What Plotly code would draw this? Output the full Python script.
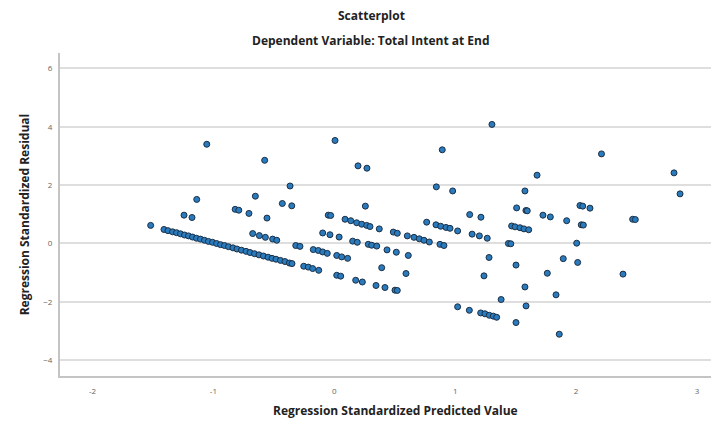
import plotly.graph_objects as go

# Regression Standardized Predicted Value (x) and Regression Standardized Residual (y)
predicted = [
    # densest diagonal band on the left
    -1.409, -1.376, -1.338, -1.305, -1.272, -1.239, -1.206, -1.173, -1.140, -1.107,
    -1.074, -1.041, -1.007, -0.974, -0.941, -0.908, -0.875, -0.838, -0.805, -0.768,
    -0.730, -0.697, -0.660, -0.623, -0.586, -0.548, -0.515, -0.482, -0.445, -0.408,
    -0.371, -0.350,
    -0.253, -0.215, -0.179, -0.129, 0.020, 0.053, 0.177, 0.232, 0.345, 0.419, 0.502, 0.521,
    # second band
    -0.675, -0.620, -0.570, -0.510, -0.476, -0.319, -0.284,
    -0.174, -0.132, -0.096, -0.058, 0.020, 0.061, 0.110, 0.392, 0.593,
    # third band
    -0.820, -0.790, -0.706, -0.557, -0.096, -0.036, 0.040, 0.152, 0.190,
    0.281, 0.309, 0.351, 0.436, 0.513, 0.612, 1.238,
    # upper bands
    -1.519, -1.243, -1.177, -1.138, -0.653, -0.430, -0.352, -0.366,
    -0.050, -0.030, 0.089, 0.136, 0.185, 0.227, 0.268, 0.295, 0.372,
    0.488, 0.521, 0.604, 0.659, 0.703, 0.742, 0.786, 0.874, 0.907,
    0.257, 0.764, 0.841, 0.880, 0.924, 0.957, 1.020,
    1.120, 1.213, 1.140, 1.200, 1.265, 1.280,
    1.440, 1.460, 1.467, 1.495, 1.536, 1.569, 1.608, 1.508, 1.585, 1.596,
    1.726, 1.787, 1.922, 2.032, 2.055, 2.115, 2.043, 2.060, 2.005,
    2.468, 2.490, 1.894, 2.013, 2.388, 1.762, 1.503, 1.577,
    # lower cluster
    1.020, 1.117, 1.211, 1.246, 1.282, 1.315, 1.343, 1.380, 1.503, 1.586,
    1.834, 1.861,
    # large residuals
    -1.055, 0.006, -0.576, 0.196, 0.270, 1.304, 0.893, 0.844, 0.979,
    1.577, 1.677, 2.210, 2.810, 2.860,
]

residual = [
    0.48, 0.44, 0.40, 0.37, 0.33, 0.29, 0.26, 0.22, 0.18, 0.15,
    0.11, 0.07, 0.04, 0.00, -0.04, -0.07, -0.11, -0.15, -0.19, -0.23,
    -0.27, -0.31, -0.35, -0.39, -0.43, -0.47, -0.51, -0.54, -0.58, -0.62,
    -0.67, -0.69,
    -0.78, -0.81, -0.86, -0.92, -1.09, -1.12, -1.26, -1.32, -1.44, -1.51, -1.60, -1.61,
    0.34, 0.27, 0.21, 0.15, 0.11, -0.07, -0.10,
    -0.21, -0.24, -0.29, -0.34, -0.41, -0.46, -0.51, -0.83, -1.03,
    1.17, 1.14, 1.03, 0.87, 0.36, 0.30, 0.22, 0.08, 0.04,
    -0.03, -0.06, -0.09, -0.22, -0.30, -0.41, -1.11,
    0.62, 0.97, 0.89, 1.51, 1.62, 1.37, 1.29, 1.97,
    0.97, 0.96, 0.83, 0.78, 0.71, 0.66, 0.62, 0.58, 0.50,
    0.39, 0.35, 0.26, 0.21, 0.16, 0.11, 0.05, -0.03, -0.07,
    1.28, 0.73, 0.64, 0.59, 0.55, 0.52, 0.43,
    0.99, 0.90, 0.32, 0.26, 0.18, -0.48,
    0.00, -0.01, 0.60, 0.57, 0.54, 0.50, 0.47, 1.22, 1.13, 1.12,
    0.97, 0.91, 0.78, 1.30, 1.28, 1.21, 0.64, 0.63, 0.01,
    0.83, 0.82, -0.52, -0.65, -1.05, -1.02, -0.74, -1.49,
    -2.17, -2.29, -2.38, -2.41, -2.46, -2.49, -2.53, -1.92, -2.71, -2.14,
    -1.76, -3.11,
    3.40, 3.53, 2.85, 2.66, 2.58, 4.08, 3.21, 1.94, 1.80,
    1.80, 2.34, 3.07, 2.42, 1.70,
]

y_ticks = [-4, -2, 0, 2, 4, 6]
x_ticks = [-2, -1, 0, 1, 2, 3]

title_text = "Scatterplot"
subtitle_text = "Dependent Variable: Total Intent at End"
x_title = "Regression Standardized Predicted Value"
y_title = "Regression Standardized Residual"

FONT = "Open Sans, Liberation Sans, sans-serif"

fig = go.Figure(
    go.Scatter(
        x=predicted,
        y=residual,
        mode="markers",
        marker=dict(size=6, color="#2a7bbd", line=dict(color="#1b2f45", width=1)),
        hoverinfo="x+y",
    )
)

fig.update_layout(
    width=711,
    height=421,
    margin=dict(l=60, r=0, t=53, b=45),
    paper_bgcolor="white",
    plot_bgcolor="white",
    showlegend=False,
    font=dict(family=FONT, color="#333333"),
    xaxis=dict(
        range=[-2.269, 3.116],
        tickmode="array",
        tickvals=x_ticks,
        ticktext=[str(v) if v >= 0 else "-" + str(-v) for v in x_ticks],
        tickfont=dict(size=8, color="#666666"),
        showgrid=False,
        zeroline=False,
        showline=True,
        linecolor="#c4c4c4",
        linewidth=2,
        ticks="",
        ticklabelstandoff=6,
    ),
    yaxis=dict(
        range=[-4.542, 6.528],
        tickmode="array",
        tickvals=y_ticks,
        tickfont=dict(size=8, color="#666666"),
        showgrid=True,
        gridcolor="#dedede",
        gridwidth=1.6,
        zeroline=False,
        showline=True,
        linecolor="#c4c4c4",
        linewidth=2,
        ticks="",
        ticklabelstandoff=4,
    ),
    annotations=[
        dict(text="<b>" + title_text + "</b>", xref="paper", yref="paper",
             x=0.478, y=1.1147, xanchor="center", yanchor="middle",
             showarrow=False, font=dict(size=12, color="#222222", family=FONT)),
        dict(text="<b>" + subtitle_text + "</b>", xref="paper", yref="paper",
             x=0.478, y=1.0372, xanchor="center", yanchor="middle",
             showarrow=False, font=dict(size=12, color="#222222", family=FONT)),
        dict(text="<b>" + x_title + "</b>", xref="paper", yref="paper",
             x=0.516, y=-0.106, xanchor="center", yanchor="middle",
             showarrow=False, font=dict(size=12, color="#222222", family=FONT)),
        dict(text="<b>" + y_title + "</b>", xref="paper", yref="paper",
             x=-0.054, y=0.5, xanchor="center", yanchor="middle", textangle=-90,
             showarrow=False, font=dict(size=12, color="#222222", family=FONT)),
    ],
)

fig.write_html("out.html")
